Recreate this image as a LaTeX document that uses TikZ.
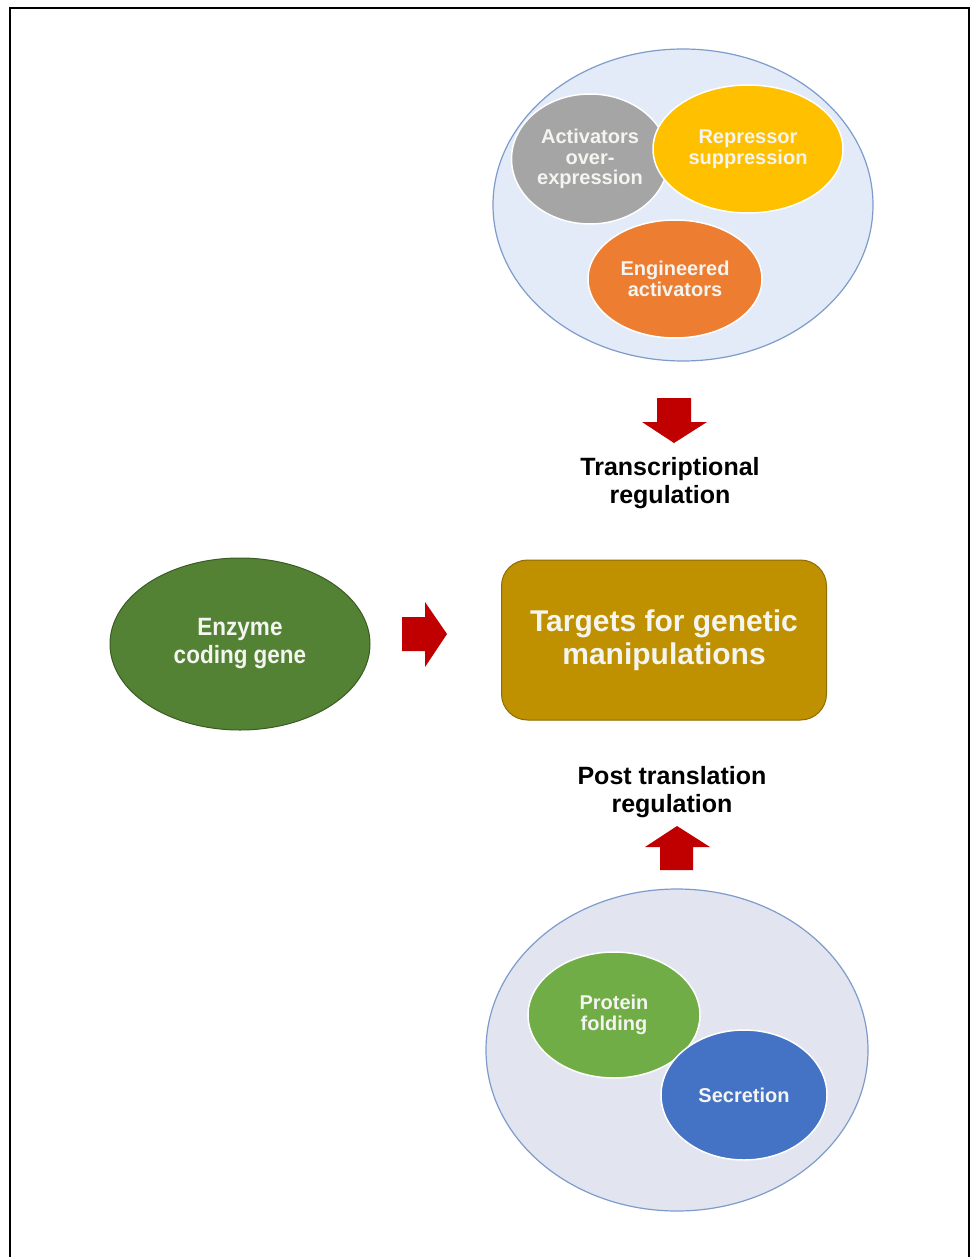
\documentclass[tikz,border=0pt]{standalone}
\usepackage{fontspec}
\setmainfont{Liberation Sans}
\usetikzlibrary{shapes.geometric}
\definecolor{outerA}{HTML}{E2EBF7}
\definecolor{outerB}{HTML}{E2E4F0}
\definecolor{outline}{HTML}{7E9CCB}
\definecolor{grayE}{HTML}{A5A5A5}
\definecolor{yellowE}{HTML}{FFC000}
\definecolor{orangeE}{HTML}{ED7D31}
\definecolor{darkgreen}{HTML}{548235}
\definecolor{gold}{HTML}{BF9000}
\definecolor{lightgreen}{HTML}{70AD47}
\definecolor{blueE}{HTML}{4472C4}
\definecolor{arrowred}{HTML}{C00000}
\definecolor{wtext}{HTML}{F4F4F0}
\tikzset{
  outerell/.style={ellipse, draw=outline, line width=1.2pt, inner sep=0pt},
  innerell/.style={ellipse, draw=white, line width=1.5pt, inner sep=0pt,
    text=wtext, font=\bfseries\fontsize{20}{20.5}\selectfont, align=center},
  bigtext/.style={font=\bfseries\fontsize{25}{28}\selectfont, align=center, text=black},
  blockarrow/.style={fill=arrowred, draw=none}
}
\begin{document}
\begin{tikzpicture}[x=1pt,y=-1pt]
\useasboundingbox (0,0) rectangle (971,1257);
\fill[white] (0,0) rectangle (971,1257);
% frame
\draw[line width=2pt] (10,1262) -- (10,8) -- (969,8) -- (969,1262);

% top group
\node[outerell, fill=outerA, minimum width=380pt, minimum height=312pt] (topgrp) at (683,205) {};
\node[innerell, fill=grayE, minimum width=157pt, minimum height=130pt] (act) at (590,159) {Activators\\over-\\expression};
\node[innerell, fill=yellowE, minimum width=190pt, minimum height=128pt] (rep) at (748,149) {Repressor\\suppression};
\node[innerell, fill=orangeE, minimum width=174pt, minimum height=118pt] (eng) at (675,279) {Engineered\\activators};

% down arrow
\fill[blockarrow] (657,398) -- (691,398) -- (691,422) -- (707,422) -- (674,443) -- (642,422) -- (657,422) -- cycle;
\node[bigtext] (trans) at (670,483) {Transcriptional\\regulation};

% center row
\node[ellipse, fill=darkgreen, draw=darkgreen!70!black, line width=1pt, inner sep=0pt,
  minimum width=260pt, minimum height=172pt, text=wtext, align=center,
  font=\bfseries\fontsize{25}{28}\selectfont\addfontfeature{FakeStretch=0.9}] (enz) at (240,644) {Enzyme\\coding gene};
\fill[blockarrow] (402,617) -- (425,617) -- (425,602) -- (447,634) -- (425,667) -- (425,651) -- (402,651) -- cycle;
\node[rectangle, rounded corners=26pt, fill=gold, draw=gold!75!black, line width=1pt,
  minimum width=325pt, minimum height=160pt, text=wtext, align=center,
  font=\bfseries\fontsize{30}{33}\selectfont] (targets) at (664,640) {Targets for genetic\\manipulations};

% post translation
\node[bigtext] (post) at (672,792) {Post translation\\regulation};
\fill[blockarrow] (677,826) -- (710,847) -- (693,847) -- (693,870) -- (660,870) -- (660,847) -- (645,847) -- cycle;

% bottom group
\node[outerell, fill=outerB, minimum width=382pt, minimum height=322pt] (botgrp) at (677,1050) {};
\node[innerell, fill=lightgreen, minimum width=172pt, minimum height=126pt] (fold) at (614,1015) {Protein\\folding};
\node[innerell, fill=blueE, minimum width=166pt, minimum height=130pt] (sec) at (744,1095) {Secretion};
\end{tikzpicture}
\end{document}
